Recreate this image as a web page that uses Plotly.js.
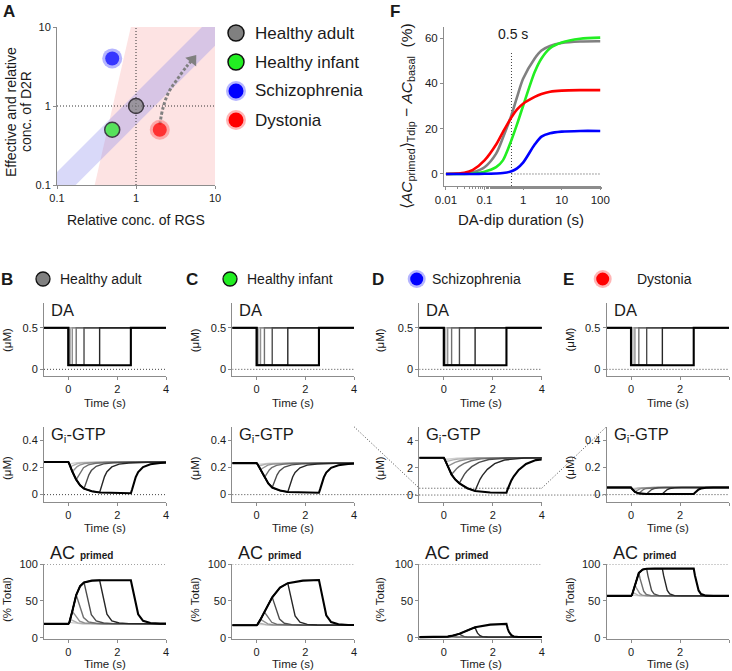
<!DOCTYPE html>
<html>
<head>
<meta charset="utf-8">
<script src="https://cdn.plot.ly/plotly-3.0.1.min.js"></script>
<style>
  html, body { margin: 0; padding: 0; background: #fff; }
  #fig { width: 732px; height: 671px; }
</style>
</head>
<body>
<div id="fig"></div>
<script>
// ---------- panel A: parameter map ----------
const groupNames = ['Healthy adult', 'Healthy infant', 'Schizophrenia', 'Dystonia'];
const groupColors = ['#808080', '#22ee22', '#0000ff', '#ff0000'];
const groupRGS = [1, 0.5, 0.5, 2];
const groupD2R = [1, 0.5, 4, 0.5];
const bandX = [0.05, 20, 20, 0.05];
const bandY = [0.073, 29.2, 11.6, 0.029];
const pinkX = [0.3, 10, 10, 0.86];
const pinkY = [0.1, 0.1, 10, 10];
const arrowX = [2.0, 2.2, 2.6, 3.3, 4.3, 5.2];
const arrowY = [0.58, 0.95, 1.5, 2.15, 3.1, 3.85];

// ---------- panel F: AC response vs dip duration ----------
const dipDur = [0.01, 0.02, 0.03, 0.05, 0.1, 0.2, 0.3, 0.5, 0.7, 1, 2, 3, 5, 10, 30, 100];
const fAdult  = [0, 0.1, 0.2, 0.8, 3, 9, 16, 26, 34, 42, 51, 54.5, 56.5, 57.8, 58.5, 58.6];
const fInfant = [0, 0, 0, 0.2, 1, 3, 6, 15, 22, 30, 45, 51, 55.5, 58, 59.7, 60.2];
const fSchizo = [0, 0, 0, 0, 0.1, 0.2, 0.4, 1.2, 2.5, 5, 13, 16.5, 18, 18.7, 19, 19];
const fDyst   = [0, 0.2, 0.5, 1.8, 6, 13, 18.5, 25, 28.5, 31, 34, 35.3, 36.3, 36.8, 37, 37];

// ---------- panels B-E: time courses ----------
const dipDurations = [0.04, 0.08, 0.16, 0.32, 0.64, 1.28, 2.56];
const dipShades = ['#d0d0d0', '#b2b2b2', '#929292', '#707070', '#4c4c4c', '#262626', '#000000'];
const daLevels = [0.5, 0.05];
const envTime = [0, 0.04, 0.08, 0.16, 0.32, 0.48, 0.64, 0.96, 1.28, 1.9, 2.56];
const recTau = [0, 0.05, 0.1, 0.2, 0.3, 0.5, 0.8, 1.2, 2, 4];

const giEnvAdult  = [0.24, 0.225, 0.205, 0.17, 0.11, 0.068, 0.044, 0.025, 0.016, 0.011, 0.01];
const giEnvInfant = [0.232, 0.223, 0.21, 0.185, 0.128, 0.082, 0.052, 0.03, 0.019, 0.015, 0.014];
const giEnvSchizo = [2.75, 2.62, 2.45, 2.1, 1.5, 1.12, 0.86, 0.5, 0.3, 0.19, 0.17];
const giEnvDyst   = [0.052, 0.043, 0.034, 0.02, 0.009, 0.006, 0.005, 0.005, 0.005, 0.005, 0.005];
const giRecAdult  = [0, 0.12, 0.26, 0.52, 0.68, 0.84, 0.93, 0.97, 0.995, 1];
const giRecInfant = [0, 0.12, 0.26, 0.52, 0.68, 0.84, 0.93, 0.97, 0.995, 1];
const giRecSchizo = [0, 0.1, 0.19, 0.35, 0.47, 0.65, 0.82, 0.93, 0.99, 1];
const giRecDyst   = [0, 0.2, 0.4, 0.7, 0.85, 0.96, 1, 1, 1, 1];

const acEnvAdult  = [19, 21, 25, 36, 58, 70, 75, 77.5, 78, 78, 78];
const acEnvInfant = [17.2, 18.5, 20.5, 25, 35, 45, 55, 68, 74, 77.5, 78.3];
const acEnvSchizo = [1, 1.1, 1.3, 1.7, 2.7, 4, 5.5, 10, 14.5, 18, 19];
const acEnvDyst   = [56.8, 58, 62, 72, 88, 92.5, 93.5, 93.7, 93.7, 93.7, 93.7];
const acRecAdult  = [0, 0.13, 0.27, 0.58, 0.78, 0.93, 0.98, 0.995, 1, 1];
const acRecInfant = [0, 0.13, 0.27, 0.58, 0.78, 0.93, 0.98, 0.995, 1, 1];
const acRecSchizo = [0, 0.35, 0.6, 0.85, 0.95, 0.99, 1, 1, 1, 1];
const acRecDyst   = [0, 0.25, 0.48, 0.8, 0.93, 0.99, 1, 1, 1, 1];

// ---------- layout helpers ----------
const W = 732, H = 671;
const FONT = 'Liberation Sans, Arial, sans-serif';
const INK = '#1a1a1a', AXC = '#8c8c8c';
const DOTS = '1px,2px';
const px = x => x / W, py = y => 1 - y / H;

function note(text, x, y, size, extra) {
    return Object.assign({
        text: text, x: px(x), y: py(y), xref: 'paper', yref: 'paper',
        showarrow: false, xanchor: 'center', yanchor: 'middle',
        font: { size: size, color: INK, family: FONT }
    }, extra || {});
}

function circle(cx, cy, r, fill, lineColor, lineWidth) {
    return {
        type: 'circle', xref: 'paper', yref: 'paper', layer: 'above',
        x0: px(cx - r), x1: px(cx + r), y0: py(cy + r), y1: py(cy - r),
        fillcolor: fill, line: { color: lineColor || fill, width: lineWidth || 0 }
    };
}

function axisBase(extra) {
    return Object.assign({
        showline: true, linecolor: AXC, linewidth: 1, ticks: 'outside', ticklen: 3,
        tickcolor: AXC, showgrid: false, zeroline: false, fixedrange: true,
        tickfont: { size: 11, color: INK, family: FONT }
    }, extra);
}

const traces = [];
const shapes = [];
const annotations = [];
const layout = {
    width: W, height: H, margin: { l: 0, r: 0, t: 0, b: 0 }, autosize: false,
    showlegend: false, paper_bgcolor: '#fff', plot_bgcolor: 'rgba(0,0,0,0)',
    font: { family: FONT, color: INK }
};

// ---------- panel A ----------
layout.xaxis = axisBase({ type: 'log', domain: [px(57), px(215)], range: [-1, 1], anchor: 'y',
    tickvals: [0.1, 1, 10], ticktext: ['0.1', '1', '10'] });
layout.yaxis = axisBase({ type: 'log', domain: [py(185), py(27)], range: [-1, 1], anchor: 'x',
    tickvals: [0.1, 1, 10], ticktext: ['0.1', '1', '10'] });

traces.push({ x: pinkX, y: pinkY, xaxis: 'x', yaxis: 'y', mode: 'lines', fill: 'toself',
    fillcolor: '#fde3e3', line: { width: 0 }, hoverinfo: 'skip' });
traces.push({ x: bandX, y: bandY, xaxis: 'x', yaxis: 'y', mode: 'lines', fill: 'toself',
    fillcolor: 'rgba(130,130,235,0.3)', line: { width: 0 }, hoverinfo: 'skip' });
traces.push({ x: [1, 1], y: [0.1, 10], xaxis: 'x', yaxis: 'y', mode: 'lines',
    line: { color: '#333', width: 1, dash: DOTS } });
traces.push({ x: [0.1, 10], y: [1, 1], xaxis: 'x', yaxis: 'y', mode: 'lines',
    line: { color: '#333', width: 1, dash: DOTS } });
traces.push({ x: arrowX, y: arrowY, xaxis: 'x', yaxis: 'y', mode: 'lines',
    line: { color: '#808080', width: 3, dash: '3px,2px', shape: 'spline' } });
traces.push({ x: [arrowX[arrowX.length - 1]], y: [arrowY[arrowY.length - 1]], xaxis: 'x', yaxis: 'y',
    mode: 'markers', marker: { symbol: 'triangle-up', size: 12, angle: 38, color: '#808080' } });
// glow behind schizophrenia / dystonia
traces.push({ x: groupRGS.slice(2), y: groupD2R.slice(2), xaxis: 'x', yaxis: 'y', mode: 'markers',
    marker: { size: 20, color: ['rgba(90,90,255,0.45)', 'rgba(255,110,110,0.5)'] } });
traces.push({ x: groupRGS, y: groupD2R, xaxis: 'x', yaxis: 'y', mode: 'markers',
    marker: { size: [15, 15, 14, 14], color: groupColors,
        line: { color: ['#000', '#000', groupColors[2], groupColors[3]], width: [1.5, 1.5, 0, 0] } } });

// legend of A
[33, 62, 91, 120].forEach((cy, i) => {
    if (i >= 2) {
        shapes.push(circle(236, cy, 10, i === 2 ? 'rgba(90,90,255,0.45)' : 'rgba(255,110,110,0.5)'));
        shapes.push(circle(236, cy, 7.5, groupColors[i]));
    } else {
        shapes.push(circle(236, cy, 8, groupColors[i], '#111', 1.5));
    }
    annotations.push(note(groupNames[i], 253, cy, 17, { xanchor: 'left' }));
});
annotations.push(note('<b>A</b>', 9, 11, 17));
annotations.push(note('Effective and relative', 11, 112, 14, { textangle: -90 }));
annotations.push(note('conc. of D2R', 26, 112, 14, { textangle: -90 }));
annotations.push(note('Relative conc. of RGS', 136, 220, 14));

// ---------- panel F ----------
layout.xaxis2 = axisBase({ type: 'log', domain: [px(444), px(601)], range: [-2.05, 2.02], anchor: 'y2',
    tickvals: [0.01, 0.1, 1, 10, 100], ticktext: ['0.01', '0.1', '1', '10', '100'],
    tickfont: { size: 11.5, color: INK, family: FONT },
    minor: { ticks: 'outside', ticklen: 2, tickcolor: AXC } });
layout.yaxis2 = axisBase({ domain: [py(186), py(26.7)], range: [-5.3, 65], anchor: 'x2',
    tickvals: [0, 20, 40, 60], tickfont: { size: 11.5, color: INK, family: FONT } });

traces.push({ x: [0.5, 0.5], y: [-5.3, 54], xaxis: 'x2', yaxis: 'y2', mode: 'lines',
    line: { color: '#444', width: 1, dash: DOTS } });
traces.push({ x: [0.5, 100], y: [0, 0], xaxis: 'x2', yaxis: 'y2', mode: 'lines',
    line: { color: '#444', width: 1, dash: DOTS } });
[[fAdult, groupColors[0]], [fInfant, groupColors[1]], [fDyst, groupColors[3]], [fSchizo, groupColors[2]]]
    .forEach(([vals, col]) => {
        traces.push({ x: dipDur, y: vals, xaxis: 'x2', yaxis: 'y2', mode: 'lines',
            line: { color: col, width: 2.6, shape: 'spline', smoothing: 0.8 } });
    });
annotations.push(note('<b>F</b>', 395, 11, 17));
annotations.push(note('0.5 s', 513, 34, 14));
annotations.push(note('DA-dip duration (s)', 521, 220, 15));
annotations.push(note('⟨<i>AC</i><sub>primed</sub>⟩<sub>Tdip</sub> − <i>AC</i><sub>basal</sub>  (%)',
    407, 116, 15.5, { textangle: -90 }));

// ---------- panels B-E ----------
const colPx = [[44, 166], [232.3, 354], [419.3, 541.7], [606.5, 729]];
const rowPx = [[303, 376], [426.7, 501.7], [564, 639]];
const giEnvs = [giEnvAdult, giEnvInfant, giEnvSchizo, giEnvDyst];
const giRecs = [giRecAdult, giRecInfant, giRecSchizo, giRecDyst];
const acEnvs = [acEnvAdult, acEnvInfant, acEnvSchizo, acEnvDyst];
const acRecs = [acRecAdult, acRecInfant, acRecSchizo, acRecDyst];

function yRangeFor(row, col) {
    if (row === 0) return [-0.08, 0.797];
    if (row === 1) return col === 2 ? [-0.49, 5.03] : [-0.052, 0.5];
    return [-1.5, 100];
}
function yTicksFor(row, col) {
    if (row === 0) return [0, 0.5];
    if (row === 1) return col === 2 ? [0, 2, 4] : [0, 0.2, 0.4];
    return [0, 50, 100];
}
function pixY(row, col, v) {
    const r = yRangeFor(row, col), p = rowPx[row];
    return p[0] + (r[1] - v) / (r[1] - r[0]) * (p[1] - p[0]);
}
function pixX(col, t) {
    const p = colPx[col];
    return p[0] + (t + 1) / 5 * (p[1] - p[0]);
}

function responseTrace(env, rec, d) {
    const base = env[0];
    const xs = [-1], ys = [base];
    const iOff = envTime.indexOf(d);
    for (let i = 0; i <= iOff; i++) { xs.push(envTime[i]); ys.push(env[i]); }
    const vOff = env[iOff];
    for (let j = 1; j < recTau.length; j++) {
        xs.push(d + recTau[j]);
        ys.push(vOff + (base - vOff) * rec[j]);
    }
    return { xs, ys };
}

const headers = [['B', 7, 43, 58], ['C', 192, 230, 245], ['D', 378, 416.7, 430], ['E', 568, 602.7, 635]];
const dotLine = { color: '#444', width: 1, dash: DOTS };

for (let col = 0; col < 4; col++) {
    const h = headers[col];
    annotations.push(note('<b>' + h[0] + '</b>', h[1], 279, 17));
    if (col >= 2) {
        shapes.push(circle(h[2], 279, 9, col === 2 ? 'rgba(90,90,255,0.45)' : 'rgba(255,110,110,0.5)'));
        shapes.push(circle(h[2], 279, 6.5, groupColors[col]));
    } else {
        shapes.push(circle(h[2], 279, 7, groupColors[col], '#111', 1.3));
    }
    annotations.push(note(groupNames[col], h[3], 279, 14, { xanchor: 'left' }));

    for (let row = 0; row < 3; row++) {
        const k = 3 + row * 4 + col;
        const xa = 'x' + k, ya = 'y' + k;
        layout['xaxis' + k] = axisBase({ domain: [px(colPx[col][0]), px(colPx[col][1])], range: [-1, 4],
            anchor: ya, tickvals: [0, 2, 4] });
        layout['yaxis' + k] = axisBase({ domain: [py(rowPx[row][1]), py(rowPx[row][0])],
            range: yRangeFor(row, col), anchor: xa, tickvals: yTicksFor(row, col) });

        dipDurations.forEach((d, i) => {
            let xs, ys;
            if (row === 0) {
                xs = [-1, 0, 0, d, d, 5];
                ys = [daLevels[0], daLevels[0], daLevels[1], daLevels[1], daLevels[0], daLevels[0]];
            } else {
                const env = row === 1 ? giEnvs[col] : acEnvs[col];
                const rec = row === 1 ? giRecs[col] : acRecs[col];
                const r = responseTrace(env, rec, d);
                xs = r.xs; ys = r.ys;
            }
            const last = i === dipDurations.length - 1;
            traces.push({ x: xs, y: ys, xaxis: xa, yaxis: ya, mode: 'lines', hoverinfo: 'skip',
                line: { color: dipShades[i], width: last ? 2.1 : 1.4 } });
        });

        const xMid = (colPx[col][0] + colPx[col][1]) / 2;
        const timeY = [403, 528, 664][row];
        annotations.push(note('Time (s)', xMid, timeY, 11.5));
        const yTitle = row === 2 ? '(% Total)' : '(μM)';
        annotations.push(note(yTitle, colPx[col][0] - (col === 2 ? 39 : 37), [340, 468, 600][row], 11.5,
            { textangle: -90 }));
        if (row === 0) annotations.push(note('DA', colPx[col][0] + 5, 310, 16.5, { xanchor: 'left' }));
        if (row === 1) annotations.push(note('G<sub>i</sub>-GTP', colPx[col][0] + 5, 435, 16.5, { xanchor: 'left' }));
        if (row === 2) annotations.push(note('AC <b><span style="font-size:10px">primed</span></b>',
            colPx[col][0] + 4, 553, 18, { xanchor: 'left' }));

        // dotted reference lines
        if (row === 0) shapes.push({ type: 'line', xref: xa, yref: ya, x0: -1, x1: 4, y0: 0, y1: 0, line: dotLine, layer: 'below' });
        if (row === 2) shapes.push({ type: 'line', xref: xa, yref: ya, x0: -1, x1: 4, y0: 100, y1: 100, line: dotLine, layer: 'below' });
    }
}

// Gi-GTP zero lines and zoom connectors between C, D and E
function seg(x0, y0, x1, y1) {
    shapes.push({ type: 'line', xref: 'paper', yref: 'paper', x0: px(x0), y0: py(y0), x1: px(x1), y1: py(y1), line: dotLine, layer: 'below' });
}
seg(pixX(0, -1), pixY(1, 0, 0), pixX(0, 4), pixY(1, 0, 0));
seg(pixX(1, -1), pixY(1, 1, 0), pixX(2, -1), pixY(1, 1, 0));
seg(pixX(2, -1), pixY(1, 2, 0), pixX(3, -1), pixY(1, 2, 0));
seg(pixX(3, -1), pixY(1, 3, 0), pixX(3, 4), pixY(1, 3, 0));
seg(pixX(2, -1), pixY(1, 2, 0.5), pixX(2, 4), pixY(1, 2, 0.5));
seg(pixX(1, 4), pixY(1, 1, 0.5), pixX(2, -1), pixY(1, 2, 0.5));
seg(pixX(2, 4), pixY(1, 2, 0.5), pixX(3, -1), pixY(1, 3, 0.5));

layout.shapes = shapes;
layout.annotations = annotations;

Plotly.newPlot('fig', traces, layout, { displayModeBar: false, staticPlot: true });
</script>
</body>
</html>
